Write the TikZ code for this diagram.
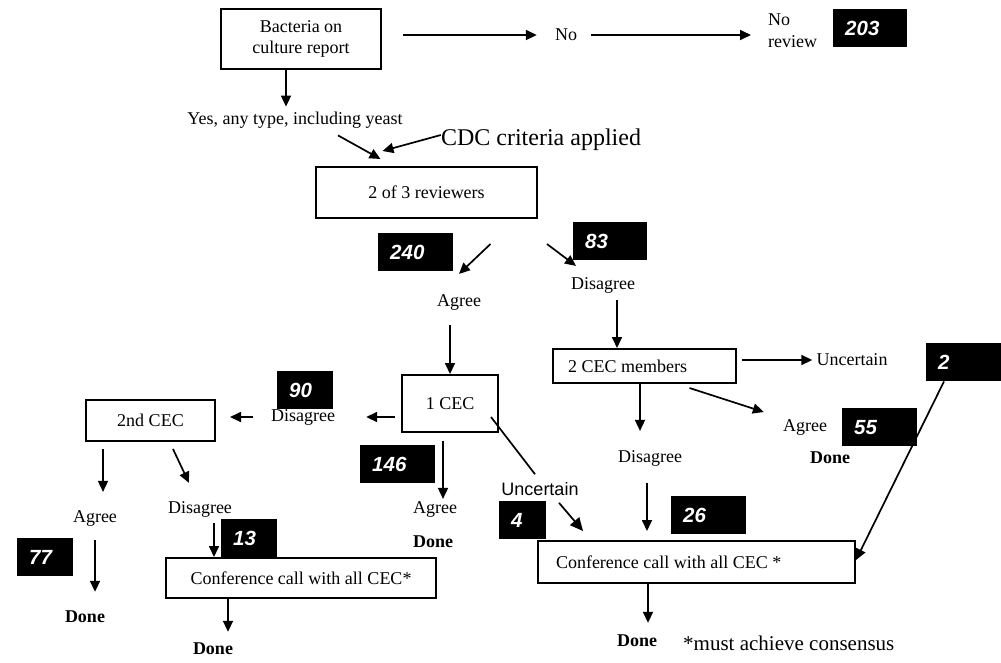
\documentclass[tikz,border=0pt]{standalone}
\usepackage{fontspec}
\setmainfont{Liberation Serif}
\newfontfamily\sansf{Liberation Sans}
\usetikzlibrary{arrows.meta}
\newcommand\numfont{\sansf\bfseries\itshape\fontsize{20.5}{24}\selectfont}
\newcommand\txtfont{\fontsize{18}{21}\selectfont}
\begin{document}
\begin{tikzpicture}[x=1pt,y=-1pt,
  txt/.style={inner sep=0pt, font=\txtfont},
  donetxt/.style={inner sep=0pt, font=\txtfont\bfseries},
  box/.style={draw, line width=2pt, inner sep=0pt, font=\txtfont},
  arr/.style={line width=1.7pt, -{Triangle[length=11pt,width=10pt]}},
  numbox/.style={fill=black, text=white, font=\numfont, anchor=north west,
    minimum height=38pt, inner xsep=12pt, inner ysep=0pt, align=left}]
\useasboundingbox (0,0) rectangle (1001,662);

% top row
\node[box, minimum width=160pt, minimum height=60pt, align=center] (bact) at (301,39) {Bacteria on\\culture report};
\node[txt] (no1) at (566,35) {No};
\node[txt, align=left, anchor=west, font=\fontsize{18}{22}\selectfont] (norev) at (768,31) {No\\review};
\node[numbox, text width=50pt] (n203) at (833,9) {203};
\node[txt] (yes) at (295,120) {Yes, any type, including yeast};
\node[txt, font=\fontsize{24}{28}\selectfont] (cdc) at (541,140) {CDC criteria applied};
\node[box, minimum width=221pt, minimum height=51pt] (rev) at (426.5,192.5) {2 of 3 reviewers};

% second level
\node[numbox, text width=51pt] (n240) at (378,233) {240};
\node[numbox, text width=50pt] (n83) at (573,222) {83};
\node[txt] (agreeA) at (459,302) {Agree};
\node[txt] (disA) at (603,285) {Disagree};
\node[box, minimum width=96pt, minimum height=57pt] (cec1) at (450,403.5) {1 CEC};
\node[box, anchor=west, minimum height=34pt, inner xsep=15pt] (cecm) at (552,366) {\makebox[153pt][l]{2 CEC members}};

% right branch
\node[txt] (unc1) at (852,360) {Uncertain};
\node[numbox, text width=56pt] (n2) at (926,343) {2};
\node[txt] (agreeB) at (805,427) {Agree};
\node[numbox, text width=51pt] (n55) at (842,408) {55};
\node[donetxt] (doneB) at (830,458) {Done};
\node[txt] (disB) at (650,458) {Disagree};
\node[inner sep=0pt, font=\sansf\fontsize{18}{21}\selectfont] (unc2) at (540,489) {Uncertain};
\node[numbox, text width=23pt] (n4) at (499,501) {4};
\node[numbox, text width=51pt] (n26) at (671,496) {26};
\node[box, anchor=west, minimum height=42pt, inner xsep=18pt] (confR) at (537,562) {\makebox[281pt][l]{Conference call with all CEC *}};
\node[donetxt] (doneF) at (637,641) {Done};
\node[inner sep=0pt, anchor=west, font=\fontsize{21}{24}\selectfont] (note) at (683,643) {*must achieve consensus};

% left branch
\node[numbox, text width=32pt] (n90) at (277,371) {90};
\node[txt] (disC) at (303,417) {Disagree};
\node[box, minimum width=129pt, minimum height=41pt] (cec2nd) at (150.5,420.5) {2nd CEC};
\node[numbox, text width=51pt] (n146) at (360,445) {146};
\node[txt] (agreeC) at (435,509) {Agree};
\node[donetxt] (doneC) at (433,542) {Done};
\node[txt] (agreeD) at (95,518) {Agree};
\node[txt] (disD) at (200,509) {Disagree};
\node[numbox, text width=32pt] (n77) at (17,538) {77};
\node[donetxt] (doneD) at (85,617) {Done};
\node[numbox, text width=32pt] (n13) at (221,519) {13};
\node[box, minimum width=270pt, minimum height=40pt] (confL) at (301,578) {Conference call with all CEC*};
\node[donetxt] (doneE) at (213,649) {Done};

% connectors
\draw[arr, shorten <=21pt, shorten >=18pt] (bact.east |- no1.west) -- (no1.west);
\draw[arr, shorten <=14pt, shorten >=17pt] (no1.east) -- (no1.east -| norev.west);
\draw[arr, shorten >=5pt] ([xshift=-15pt]bact.south) -- ([xshift=-15pt]bact.south |- yes.north);
\draw[arr] ([xshift=43pt,yshift=-7pt]yes.south) -- ([xshift=-46pt,yshift=7pt]rev.north);
\draw[arr] ([yshift=5pt]cdc.west) -- ([xshift=-44pt,yshift=15pt]rev.north);
\draw[arr] ([xshift=64pt,yshift=-25pt]rev.south) -- ([yshift=20pt]agreeA.north);
\draw[arr] ([xshift=9pt,yshift=-25pt]rev.south east) -- ([xshift=-27pt,yshift=11pt]disA.north);
\draw[arr, shorten <=15pt] (cec1.north |- agreeA.south) -- (cec1.north);
\draw[arr, shorten <=7pt] ([xshift=14pt]disA.south) -- ([xshift=14pt]disA.south |- cecm.north);
\draw[arr, shorten <=5pt, shorten >=4pt] (cecm.east |- unc1.west) -- (unc1.west);
\draw[arr] ([xshift=45pt,yshift=-4pt]cecm.south) -- ([xshift=-19pt,yshift=15pt]agreeB.west);
\draw[arr, shorten >=19pt] ([xshift=-4.5pt]cecm.south) -- ([xshift=-4.5pt]cecm.south |- disB.north);
\draw[arr, shorten <=17pt, shorten >=9pt] ([xshift=-3pt]disB.south) -- ([xshift=-3pt]disB.south |- confR.north);
\draw[line width=1.7pt] ([xshift=-8pt,yshift=-13.5pt]cec1.east) -- ([xshift=-5pt,yshift=8pt]unc2.north);
\draw[line width=1.7pt, -{Triangle[length=13pt,width=12pt]}] ([xshift=19pt,yshift=-7pt]unc2.south) -- ([xshift=46pt,yshift=9pt]confR.north west);
\draw[arr] ([xshift=18pt]n2.south west) -- ([yshift=2pt]confR.east);
\draw[arr, shorten >=12pt] ([xshift=-48.5pt]confR.south) -- ([xshift=-48.5pt]confR.south |- doneF.north);
\draw[arr, shorten <=6pt, shorten >=31pt] ([yshift=-13.5pt]cec1.west) -- ([yshift=-13.5pt]cec1.west -| disC.east);
\draw[arr, shorten <=18pt, shorten >=14pt] (disC.west) -- (disC.west -| cec2nd.east);
\draw[arr, shorten <=8pt, shorten >=2pt] ([xshift=-7pt]cec1.south) -- ([xshift=-7pt]cec1.south |- agreeC.north);
\draw[arr, shorten <=7pt, shorten >=18pt] ([xshift=-47.5pt]cec2nd.south) -- ([xshift=-47.5pt]cec2nd.south |- agreeD.north);
\draw[arr] ([xshift=22.5pt,yshift=-7pt]cec2nd.south) -- ([xshift=-11pt,yshift=18pt]disD.north);
\draw[arr, shorten <=14pt, shorten >=19pt] (agreeD.south) -- (agreeD.south |- doneD.north);
\draw[arr, shorten <=6pt] ([xshift=14pt]disD.south) -- ([xshift=14pt]disD.south |- confL.north);
\draw[arr, shorten >=11pt] ([xshift=-73pt]confL.south) -- ([xshift=-73pt]confL.south |- doneE.north);
\end{tikzpicture}
\end{document}
